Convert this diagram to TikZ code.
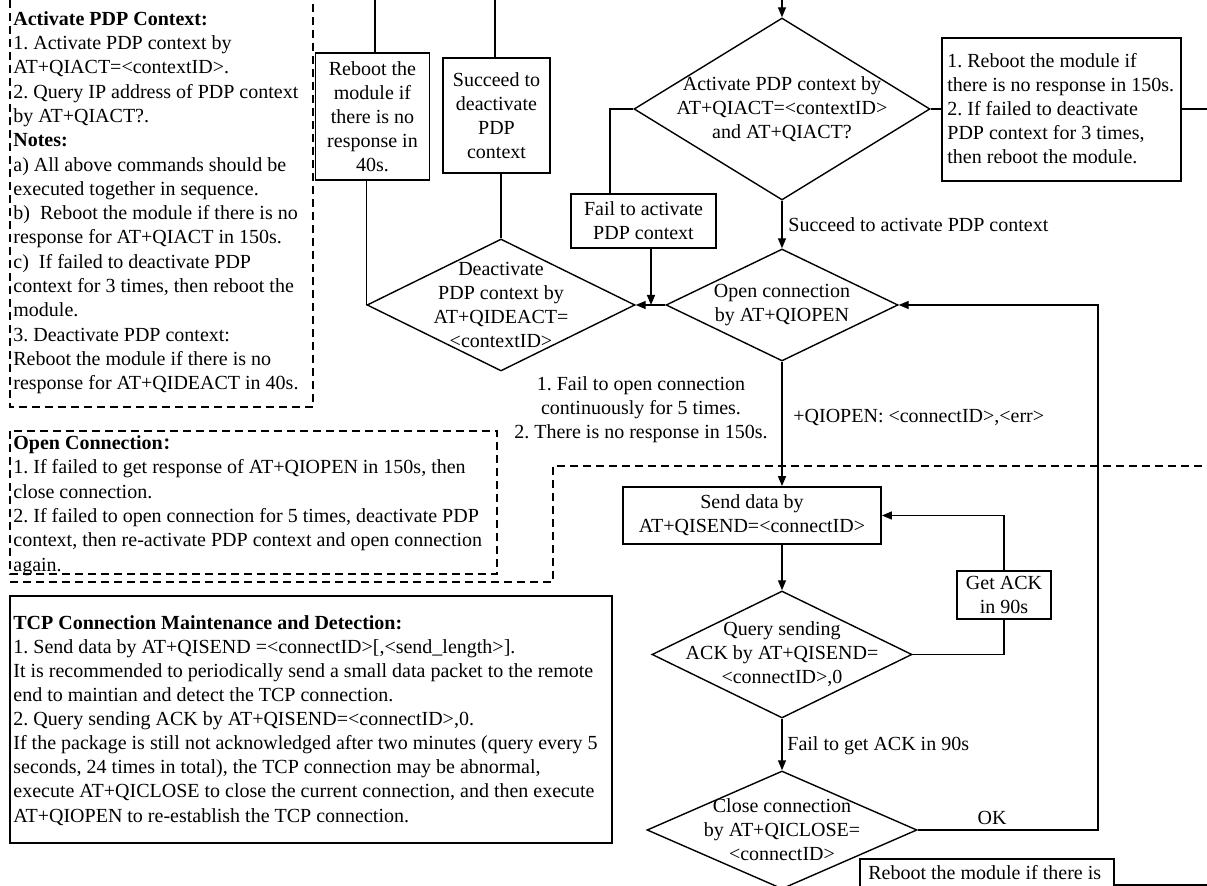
\documentclass[tikz,border=0pt]{standalone}
\usepackage{fontspec}
\setmainfont{Liberation Serif}
\newfontfamily\cjkf{Noto Sans CJK SC}
\usetikzlibrary{shapes.geometric,arrows.meta,calc}
\frenchspacing
\begin{document}
\begin{tikzpicture}[x=0.5pt,y=-0.5pt,
  every node/.style={font=\fontsize{10}{12}\selectfont},
  box/.style={draw, line width=0.9pt, rectangle, inner sep=0pt, align=center},
  dia/.style={draw, line width=0.7pt, diamond, inner sep=0pt},
  txt/.style={inner sep=0pt, align=left, anchor=north west},
  conn/.style={line width=0.7pt},
  arr/.style={conn, -{Triangle[length=5pt,width=4pt]}},
  dbox/.style={line width=0.7pt, dash pattern=on 4pt off 2.5pt},
]
\useasboundingbox (0,0) rectangle (1207,886);

% ---------- left dashed notes ----------
\draw[dbox] (10,0) -- (10,407) -- (313,407) -- (313,0);
\node[txt, font=\fontsize{10}{12.15}\selectfont] (notes1) at (13,11) {\textbf{Activate PDP Context:}\\
1. Activate PDP context by\\
AT+QIACT=<contextID>.\\
2. Query IP address of PDP context\\
by AT+QIACT?.\\
\textbf{Notes:}\\
a) All above commands should be\\
executed together in sequence.\\
b)\ \ Reboot the module if there is no\\
response for AT+QIACT in 150s.\\
c)\ \ If failed to deactivate PDP\\
context for 3 times, then reboot the\\
module.\\
3. Deactivate PDP context:\\
Reboot the module if there is no\\
response for AT+QIDEACT in 40s.};

\draw[dbox] (10,431) rectangle (497,574);
\node[txt, font=\fontsize{10}{12.2}\selectfont] (notes2) at (13,435) {\textbf{Open Connection{\cjkf\fontsize{8}{10}\selectfont ：}}\\
1. If failed to get response of AT+QIOPEN in 150s, then\\
close connection.\\
2. If failed to open connection for 5 times, deactivate PDP\\
context, then re-activate PDP context and open connection\\
again.};
\draw[dbox] (10,582) -- (553,582) -- (553,466) -- (1207,466);

\draw[line width=0.9pt] (10,596) rectangle (612,843);
\node[txt, font=\fontsize{10}{12.05}\selectfont] (notes3) at (13,615) {\textbf{TCP Connection Maintenance and Detection:}\\
1. Send data by AT+QISEND =<connectID>[,<send\_length>].\\
It is recommended to periodically send a small data packet to the remote\\
end to maintian and detect the TCP connection.\\
2. Query sending ACK by AT+QISEND=<connectID>,0.\\
If the package is still not acknowledged after two minutes (query every 5\\
seconds, 24 times in total), the TCP connection may be abnormal,\\
execute AT+QICLOSE to close the current connection, and then execute\\
AT+QIOPEN to re-establish the TCP connection.};

% ---------- activate ----------
\coordinate (topin) at (782,0);
\node[dia, minimum width=148pt, minimum height=91pt] (act) at (782,109) {};
\node[align=center] (actt) at (act) {Activate PDP context by\\AT+QIACT=<contextID>\\and AT+QIACT?};
\draw[arr] (topin) -- (act.north);

\node[box, minimum width=119.5pt, minimum height=71.5pt] (rbr) at (1061.5,109.5) {};
\node[txt, anchor=west] (rbrt) at (947,108.5) {1. Reboot the module if\\there is no response in 150s.\\2. If failed to deactivate\\PDP context for 3 times,\\then reboot the module.};
\coordinate (rbrout) at (1207,109);
\draw[conn] (act.east) -- (act.east -| rbr.west);
\draw[conn] (rbr.east |- rbrout) -- (rbrout);

\node[box, minimum width=72.5pt, minimum height=27pt] (fail) at (643.5,221) {Fail to activate\\PDP context};
\coordinate (failtop) at (610,194);
\draw[conn] (act.west) -| (failtop);
\coordinate (failbot) at (651,248);
\coordinate (join) at (651,305);
\draw[arr] (failbot) -- (join);

% ---------- open connection ----------
\node[dia, minimum width=116pt, minimum height=56pt] (open) at (782,305) {};
\node[align=center] (opent) at (open) {Open connection\\by AT+QIOPEN};
\draw[arr] (act.south) -- (open.north);
\node[anchor=west, inner sep=0pt] (succl) at (788,225) {Succeed to activate PDP context};

% ---------- deactivate ----------
\node[dia, minimum width=134pt, minimum height=66pt] (deact) at (501,305) {};
\node[align=center] (deactt) at (deact) {Deactivate\\PDP context by\\AT+QIDEACT=\\<contextID>};
\draw[arr] (open.west) -- (deact.east);

\node[box, minimum width=57pt, minimum height=63.5pt] (r40) at (372.5,116.5) {Reboot the\\module if\\there is no\\response in\\40s.};
\coordinate (r40in) at (375,0);
\draw[conn] (r40in) -- (r40in |- r40.north);
\draw[conn] (r40.south -| deact.west) -- (deact.west);

\node[box, minimum width=53.5pt, minimum height=57.5pt] (succ) at (496.5,115.5) {Succeed to\\deactivate\\PDP\\context};
\coordinate (succin) at (495,0);
\draw[conn] (succin) -- (succin |- succ.north);
\draw[conn] (deact.north |- succ.south) -- (deact.north);

\node[align=center] (faill) at (641,410) {1. Fail to open connection\\continuously for 5 times.\\2. There is no response in 150s.};

% ---------- send ----------
\node[box, minimum width=129pt, minimum height=28.5pt] (send) at (752,515.5) {Send data by\\AT+QISEND=<connectID>};
\draw[arr] (open.south) -- (open.south |- send.north);
\node[anchor=west, inner sep=0pt] (qol) at (793,418) {+QIOPEN: <connectID>,<err>};

\node[dia, minimum width=130pt, minimum height=63.5pt] (query) at (782,654.5) {};
\node[align=center] (queryt) at (query) {Query sending\\ACK by AT+QISEND=\\<connectID>,0};
\draw[arr] (query.north |- send.south) -- (query.north);

\node[box, minimum width=47pt, minimum height=24pt] (ack) at (1004,595) {Get ACK\\in 90s};
\draw[conn] (query.east) -| (ack.south);
\draw[arr] (ack.north) |- (send.east);

\node[dia, minimum width=135pt, minimum height=59pt] (close) at (782,830) {};
\node[align=center] (closet) at (close) {Close connection\\by AT+QICLOSE=\\<connectID>};
\draw[arr] (query.south) -- (close.north);
\node[anchor=west, inner sep=0pt] (fackl) at (787,746) {Fail to get ACK in 90s};

\coordinate (loop) at (1098,305);
\draw[arr] (close.east) -| (loop) -- (open.east);
\node (okl) at (992,818) {OK};

% ---------- bottom reboot box (cut off) ----------
\draw[line width=0.9pt] (860,890) -- (860,859) -- (1114,859) -- (1114,885) -- (1207,885);
\node[anchor=west, inner sep=0pt] (rbb) at (868,873) {Reboot the module if there is};
\end{tikzpicture}
\end{document}
